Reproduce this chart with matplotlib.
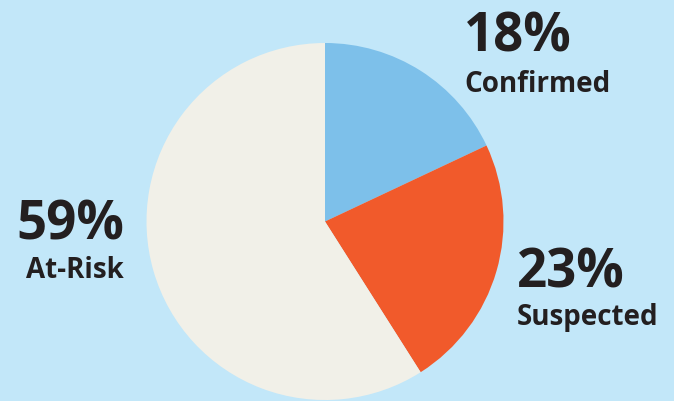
import matplotlib
matplotlib.use("Agg")
import matplotlib.pyplot as plt

# data
labels = ["Confirmed", "Suspected", "At-Risk"]
shares = [18, 23, 59]
colors = ["#7DC0EA", "#F15A2B", "#F1F0E8"]

BG = "#C2E7F9"
INK = "#231F20"
W, H = 674, 402

plt.rcParams['font.family'] = ['Open Sans', 'DejaVu Sans']

fig = plt.figure(figsize=(W / 100, H / 100), dpi=100)
fig.patch.set_facecolor(BG)
ax = fig.add_axes([0, 0, 1, 1])
ax.set_facecolor(BG)

ax.pie(shares, colors=colors, startangle=90, counterclock=False,
       center=(325, H - 222.5), radius=178.5,
       wedgeprops=dict(linewidth=0))
ax.set_xlim(0, W)
ax.set_ylim(0, H)
ax.set_aspect('equal')
ax.axis('off')

# label positions in pixel coords (x, baseline y, alignment)
pos = {
    "Confirmed": (464, 52, 92, 'left'),
    "Suspected": (517, 288, 325, 'left'),
    "At-Risk": (124, 240, 278, 'right'),
}
for lab, s in zip(labels, shares):
    x, yb1, yb2, ha = pos[lab]
    ax.text(x, H - yb1, f"{s}%", fontsize=38, fontweight='bold', color=INK,
            ha=ha, va='baseline')
    ax.text(x, H - yb2, lab, fontsize=20, fontweight='bold', color=INK,
            ha=ha, va='baseline')

fig.savefig("out.png", dpi=100, facecolor=BG)
